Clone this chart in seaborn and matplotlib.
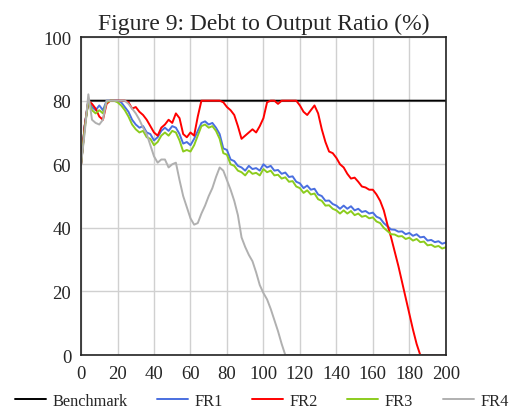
import numpy as np
import pandas as pd
import seaborn as sns
import matplotlib.pyplot as plt

# periods 0, 2, 4, ..., 200
periods = list(range(0, 201, 2))

benchmark = [60, 72] + [80] * 99

fr1 = [60, 72, 80, 78, 77, 78.5, 77, 80, 80, 80,
       80, 79.5, 78, 76.5, 74, 72.5, 71.5, 72, 70, 69.5,
       67.5, 68.5, 70.5, 71.5, 70.5, 72, 71.5, 69.5, 66.5, 67,
       66, 68, 70.5, 73, 73.5, 72.5, 73, 71.5, 69.5, 65,
       64.5, 61.5, 61, 59.5, 59, 58, 59.5, 58.5, 58.8, 58,
       60, 59, 59.5, 58, 58.2, 57, 57.4, 56, 56.2, 54.5,
       54, 52.5, 53.3, 52, 52.3, 50.5, 50, 48.5, 48.6, 47.5,
       47, 46, 47, 46, 46.8, 45.5, 46, 45, 45.3, 44.5,
       44.8, 43.5, 43, 41.5, 40.5, 39.5, 39.4, 38.8, 38.9, 38,
       38.4, 37.5, 38, 37, 37.2, 36, 36.2, 35.5, 35.8, 35,
       35.4]

fr2 = [60, 72, 80, 79, 77.5, 75, 74, 79, 80, 80,
       80, 80, 80, 79.5, 77.5, 78, 76.5, 75.5, 74, 72,
       70, 69, 71.5, 72.5, 74, 73, 76, 74.5, 69.5, 68.5,
       70, 69, 75, 80, 80, 80, 80, 80, 80, 79.5,
       78, 77, 75.5, 72, 68, 69, 70, 71, 70, 72,
       74.5, 79.5, 80, 80, 79, 80, 80, 80, 80, 80,
       78.5, 76.5, 75.5, 77, 78.5, 76, 71, 67, 64, 63.5,
       62, 60, 59, 57, 55.5, 55.8, 54.5, 53, 52.7, 52,
       52, 50.5, 48.5, 45.5, 41, 37, 32.5, 28, 23, 18,
       13, 8, 3.5, 0, 0, 0, 0, 0, 0, 0,
       0]

fr3 = [60, 71, 80, 77, 76, 77, 76, 79.5, 80, 80,
       79.5, 78.5, 77, 75, 72.5, 71, 70, 70.5, 68.5, 68,
       66, 67, 69, 70, 69, 70.5, 70, 67.5, 64, 64.5,
       64, 66, 69, 72, 72.5, 71.5, 72, 70.5, 68, 63.5,
       63, 60, 59.5, 58, 57.5, 56.5, 58, 57, 57.3, 56.5,
       58.5, 57.5, 58, 56.5, 56.7, 55.5, 55.9, 54.5, 54.7, 53,
       52.5, 51, 51.8, 50.5, 50.8, 49, 48.5, 47, 47.1, 46,
       45.5, 44.5, 45.5, 44.5, 45.3, 44, 44.5, 43.5, 43.8, 43,
       43.3, 42, 41.5, 40, 39, 38, 37.9, 37.3, 37.4, 36.5,
       36.9, 36, 36.5, 35.5, 35.7, 34.5, 34.7, 34, 34.3, 33.5,
       33.9]

fr4 = [60, 70, 82, 74, 73, 72.5, 74, 80, 80, 80,
       80, 80, 80, 79, 77.5, 76, 74, 71.5, 69.5, 66,
       62.5, 60.5, 61.5, 61.5, 59, 60, 60.5, 55, 50, 46.5,
       43, 41, 41.5, 44.5, 47, 50, 52.5, 56, 59, 58,
       55, 52, 48.5, 44, 37, 34, 31.5, 29.5, 26, 22,
       19.5, 17.5, 14.5, 11, 7.5, 3.5, 0, 0, 0, 0,
       0, 0, 0, 0, 0, 0, 0, 0, 0, 0,
       0, 0, 0, 0, 0, 0, 0, 0, 0, 0,
       0, 0, 0, 0, 0, 0, 0, 0, 0, 0,
       0, 0, 0, 0, 0, 0, 0, 0, 0, 0,
       0]

series_names = ["Benchmark", "FR1", "FR2", "FR3", "FR4"]
series_values = [benchmark, fr1, fr2, fr3, fr4]
colors = ["#000000", "#4a6fe0", "#ff0000", "#8ccc1e", "#b0b0b0"]

df = pd.concat(
    [pd.DataFrame({"period": periods, "ratio": vals, "series": name})
     for name, vals in zip(series_names, series_values)],
    ignore_index=True,
)

sns.set_style("white")
plt.rcParams['font.family'] = ['Liberation Serif', 'DejaVu Serif']

fig = plt.figure(figsize=(5.13, 4.14), dpi=100)
ax = fig.add_axes([0.158, 0.140, 0.711, 0.768])

sns.lineplot(data=df, x="period", y="ratio", hue="series",
             palette=dict(zip(series_names, colors)), hue_order=series_names,
             linewidth=1.4, ax=ax, legend=False)

ax.set_xlim(0, 200)
ax.set_ylim(0, 100)
ax.set_xticks(range(0, 201, 20))
ax.set_yticks(range(0, 101, 20))
ax.grid(True, color="#d0d0d0", linewidth=1.0)
ax.set_axisbelow(True)
for s in ax.spines.values():
    s.set_color("#222222")
    s.set_linewidth(1.2)
ax.tick_params(length=0, labelsize=13.5, pad=7)
ax.set_xlabel("")
ax.set_ylabel("")
ax.set_title("Figure 9: Debt to Output Ratio (%)", fontsize=17, pad=6)

handles = [plt.Line2D([], [], color=c, linewidth=1.4) for c in colors]
fig.legend(handles, series_names, loc="center", bbox_to_anchor=(0.51, 0.029),
           ncol=5, frameon=False, fontsize=11.8, handlelength=1.9,
           handletextpad=0.4, columnspacing=1.78)

fig.savefig("out.png", dpi=100)
